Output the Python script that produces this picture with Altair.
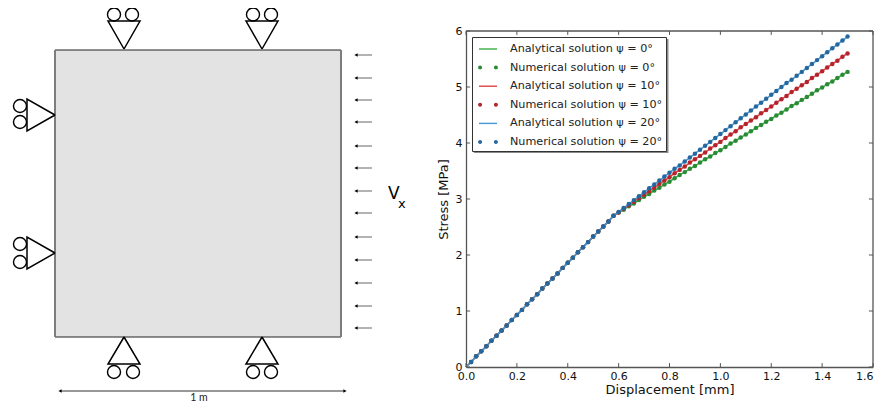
import altair as alt
import pandas as pd

# ---------- stress-displacement curves ----------
displacement = [0.00, 0.02, 0.04, 0.06, 0.08, 0.10, 0.12, 0.14, 0.16, 0.18,
                0.20, 0.22, 0.24, 0.26, 0.28, 0.30, 0.32, 0.34, 0.36, 0.38,
                0.40, 0.42, 0.44, 0.46, 0.48, 0.50, 0.52, 0.54, 0.56, 0.58,
                0.60, 0.62, 0.64, 0.66, 0.68, 0.70, 0.72, 0.74, 0.76, 0.78,
                0.80, 0.82, 0.84, 0.86, 0.88, 0.90, 0.92, 0.94, 0.96, 0.98,
                1.00, 1.02, 1.04, 1.06, 1.08, 1.10, 1.12, 1.14, 1.16, 1.18,
                1.20, 1.22, 1.24, 1.26, 1.28, 1.30, 1.32, 1.34, 1.36, 1.38,
                1.40, 1.42, 1.44, 1.46, 1.48, 1.50]
shared_rise = [0.00, 0.09, 0.19, 0.28, 0.37, 0.47, 0.56, 0.65, 0.74, 0.84,
               0.93, 1.02, 1.12, 1.21, 1.30, 1.40, 1.49, 1.58, 1.67, 1.77,
               1.86, 1.95, 2.05, 2.14, 2.23, 2.33, 2.42, 2.51, 2.60, 2.70]
stress_psi0 = shared_rise + [
    2.76, 2.81, 2.87, 2.92, 2.98, 3.04, 3.09, 3.15, 3.20, 3.26, 3.31, 3.37,
    3.43, 3.48, 3.54, 3.59, 3.65, 3.71, 3.76, 3.82, 3.87, 3.93, 3.99, 4.04,
    4.10, 4.15, 4.21, 4.27, 4.32, 4.38, 4.43, 4.49, 4.54, 4.60, 4.66, 4.71,
    4.77, 4.82, 4.88, 4.94, 4.99, 5.05, 5.10, 5.16, 5.22, 5.27]
stress_psi10 = shared_rise + [
    2.76, 2.83, 2.89, 2.95, 3.02, 3.08, 3.14, 3.20, 3.27, 3.33, 3.39, 3.46,
    3.52, 3.58, 3.65, 3.71, 3.77, 3.83, 3.90, 3.96, 4.02, 4.09, 4.15, 4.21,
    4.28, 4.34, 4.40, 4.46, 4.53, 4.59, 4.65, 4.72, 4.78, 4.84, 4.91, 4.97,
    5.03, 5.09, 5.16, 5.22, 5.28, 5.35, 5.41, 5.47, 5.54, 5.60]
stress_psi20 = shared_rise + [
    2.77, 2.84, 2.91, 2.98, 3.05, 3.12, 3.19, 3.26, 3.33, 3.40, 3.47, 3.54,
    3.60, 3.67, 3.74, 3.81, 3.88, 3.95, 4.02, 4.09, 4.16, 4.23, 4.30, 4.37,
    4.44, 4.51, 4.58, 4.65, 4.72, 4.79, 4.86, 4.93, 5.00, 5.07, 5.13, 5.20,
    5.27, 5.34, 5.41, 5.48, 5.55, 5.62, 5.69, 5.76, 5.83, 5.90]

legend_labels = ["Analytical solution ψ = 0°", "Numerical solution ψ = 0°",
                 "Analytical solution ψ = 10°", "Numerical solution ψ = 10°",
                 "Analytical solution ψ = 20°", "Numerical solution ψ = 20°"]
legend_colors = ["#3fae49", "#2a8a35", "#e0454b", "#b3242c", "#4a96d0", "#24689f"]
line_key = "M-1,-0.08H1V0.08H-1Z"
dots_key = ("M-0.66,0A0.22,0.22,0,1,1,-1.1,0A0.22,0.22,0,1,1,-0.66,0Z"
            "M1.1,0A0.22,0.22,0,1,1,0.66,0A0.22,0.22,0,1,1,1.1,0Z")
legend_keys = [line_key, dots_key] * 3

x_tick_values = [0.0, 0.2, 0.4, 0.6, 0.8, 1.0, 1.2, 1.4, 1.6]
y_tick_values = [0, 1, 2, 3, 4, 5, 6]
X_MAX, Y_MAX = 1.6, 6
X_TICK_LEN, Y_TICK_LEN = 0.016, 0.07
FRAME = "#555555"

# ---------- schematic (drawing units) ----------
block_x = [55, 341]
block_y = [50, 337]
supports = [  # closed triangles: x list, y list
    ([124, 108, 140, 124], [49, 21, 21, 49]),
    ([262, 246, 278, 262], [49, 21, 21, 49]),
    ([124, 108, 140, 124], [337, 364, 364, 337]),
    ([262, 246, 278, 262], [337, 364, 364, 337]),
    ([55, 27, 27, 55], [115, 99, 131, 115]),
    ([55, 27, 27, 55], [253, 237, 269, 253]),
]
roller_x = [114, 132, 253, 271, 114, 133, 253, 271, 20, 20, 20, 20]
roller_y = [14.5, 14.5, 14.5, 14.5, 372, 372, 372, 372, 106, 122, 244, 262]
load_y = [55, 78, 100, 122, 146, 168, 191, 213, 237, 260, 283, 306, 328]
load_tail, load_tip = 372, 356
dim_y = 391
dim_x = [60, 345]

LEFT_W, LEFT_H = 420, 395
dx = alt.Scale(domain=[8, 8 + LEFT_W], range=[0, LEFT_W])
dy = alt.Scale(domain=[8, 8 + LEFT_H], range=[0, LEFT_H])
X = lambda f: alt.X(f, type="quantitative", scale=dx, axis=None)
Y = lambda f: alt.Y(f, type="quantitative", scale=dy, axis=None)

blk = pd.DataFrame({"x": [block_x[0]], "x2": [block_x[1]],
                    "y": [block_y[0]], "y2": [block_y[1]]})
block = alt.Chart(blk).mark_rect(fill="#e3e3e3").encode(x=X("x"), x2="x2", y=Y("y"), y2="y2")
edges_h = alt.Chart(pd.DataFrame({"x": block_x[:1] * 2, "x2": block_x[1:] * 2, "y": block_y})).mark_rule(
    color="#222222", strokeWidth=1).encode(x=X("x"), x2="x2", y=Y("y"))
edges_v = alt.Chart(pd.DataFrame({"x": block_x, "y": block_y[:1] * 2, "y2": block_y[1:] * 2})).mark_rule(
    color="#7d7d7d", strokeWidth=2).encode(x=X("x"), y=Y("y"), y2="y2")

tri_rows = []
for i, (xs, ys) in enumerate(supports):
    for j, (a, b) in enumerate(zip(xs, ys)):
        tri_rows.append({"id": i, "o": j, "x": a, "y": b})
triangles = alt.Chart(pd.DataFrame(tri_rows)).mark_line(color="black", strokeWidth=1.5).encode(
    x=X("x"), y=Y("y"), detail="id:N", order="o:Q")
rollers = alt.Chart(pd.DataFrame({"x": roller_x, "y": roller_y})).mark_point(
    shape="circle", size=170, color="black", strokeWidth=1.4, filled=False, opacity=1).encode(x=X("x"), y=Y("y"))

load_df = pd.DataFrame({"y": load_y, "tail": [load_tail] * len(load_y), "tip": [load_tip] * len(load_y)})
load_shaft = alt.Chart(load_df).mark_rule(color="#666666", strokeWidth=1).encode(x=X("tail"), x2="tip", y=Y("y"))
load_head = alt.Chart(load_df).mark_point(shape="triangle-left", size=14, filled=True, color="black", opacity=1).encode(
    x=X("tip"), y=Y("y"))

dim_df = pd.DataFrame({"x": [dim_x[0]], "x2": [dim_x[1]], "y": [dim_y]})
dim_line = alt.Chart(dim_df).mark_rule(color="#333333", strokeWidth=1).encode(x=X("x"), x2="x2", y=Y("y"))
dim_heads = alt.Chart(pd.DataFrame({"x": dim_x, "y": [dim_y, dim_y], "s": ["triangle-left", "triangle-right"]})).mark_point(
    size=14, filled=True, color="black", opacity=1).encode(
    x=X("x"), y=Y("y"), shape=alt.Shape("s:N", scale=None))
dim_text = alt.Chart(pd.DataFrame({"x": [199], "y": [398], "t": ["1 m"]})).mark_text(
    font="Lato", fontSize=10.5, color="#222222").encode(x=X("x"), y=Y("y"), text="t")
v_text = alt.Chart(pd.DataFrame({"x": [388], "y": [194], "t": ["V"]})).mark_text(
    font="DejaVu Sans", fontSize=17, align="left", color="black").encode(x=X("x"), y=Y("y"), text="t")
v_sub = alt.Chart(pd.DataFrame({"x": [398], "y": [204], "t": ["x"]})).mark_text(
    font="DejaVu Sans", fontSize=13, align="left", color="black").encode(x=X("x"), y=Y("y"), text="t")

left = alt.layer(block, edges_h, edges_v, triangles, rollers, load_shaft, load_head,
                 dim_line, dim_heads, dim_text, v_text, v_sub).properties(width=LEFT_W, height=LEFT_H)

# ---------- stress plot ----------
PLOT_W, PLOT_H, PLOT_TOP = 407, 359, 23
sx = alt.Scale(domain=[0, X_MAX], range=[0, PLOT_W])
sy = alt.Scale(domain=[0, Y_MAX], range=[PLOT_H, PLOT_TOP])
x_axis = alt.Axis(title="Displacement [mm]", values=x_tick_values, format=".1f", grid=False,
                  tickSize=0, labelPadding=3, labelFontSize=11, titleFontSize=13, titleFontWeight="normal",
                  labelFont="DejaVu Sans", titleFont="DejaVu Sans", labelColor="#111111", titleColor="#111111",
                  domainColor=FRAME, domainWidth=1.3, titlePadding=2, labelFlush=False, labelOverlap=False,
                  labelAlign=alt.expr("datum.value >= 1.6 ? 'right' : 'center'"))
y_axis = alt.Axis(title="Stress [MPa]", values=y_tick_values, format="d", grid=False,
                  tickSize=0, labelPadding=4, labelFontSize=11, titleFontSize=13, titleFontWeight="normal",
                  labelFont="DejaVu Sans", titleFont="DejaVu Sans", labelColor="#111111", titleColor="#111111",
                  domainColor=FRAME, domainWidth=1.3, titlePadding=5, labelOverlap=False)
PX = alt.X("x:Q", scale=sx, axis=x_axis)
PY = alt.Y("y:Q", scale=sy, axis=y_axis)
color_scale = alt.Scale(domain=legend_labels, range=legend_colors)

layers = []
curve_sets = [stress_psi0, stress_psi10, stress_psi20]

# helper layer that only contributes the legend entries (one-pixel marks at the origin, under the curves)
legend_style = dict(
    title=None, orient="none", legendX=464, legendY=29, fillColor="white", strokeColor="#333333",
    padding=3, rowPadding=3.6, labelFont="DejaVu Sans", labelFontSize=11.2, labelColor="#222222",
    symbolSize=324, symbolStrokeWidth=0, symbolOffset=4, labelOffset=13, labelLimit=220, zindex=1)
key_df = pd.DataFrame({"x": [0.0] * 6, "y": [0.0] * 6, "s": legend_labels})
keys = alt.Chart(key_df).mark_point(filled=True, size=1, opacity=1).encode(
    x=PX, y=PY,
    color=alt.Color("s:N", scale=color_scale, legend=alt.Legend(**legend_style)),
    shape=alt.Shape("s:N", scale=alt.Scale(domain=legend_labels, range=legend_keys),
                    legend=alt.Legend(**legend_style)),
)
layers.append(keys)

for k, values in enumerate(curve_sets):
    a_df = pd.DataFrame({"x": displacement, "y": values, "s": legend_labels[2 * k]})
    n_df = pd.DataFrame({"x": displacement[1:], "y": values[1:], "s": legend_labels[2 * k + 1]})
    layers.append(alt.Chart(a_df).mark_line(strokeWidth=1.6).encode(
        x=PX, y=PY, color=alt.Color("s:N", scale=color_scale, legend=None)))
    layers.append(alt.Chart(n_df).mark_circle(size=20, opacity=1).encode(
        x=PX, y=PY, color=alt.Color("s:N", scale=color_scale, legend=None)))

# top and right edges + inward ticks
top_edge = alt.Chart(pd.DataFrame({"x": [0], "x2": [X_MAX], "y": [Y_MAX]})).mark_rule(
    color=FRAME, strokeWidth=1.3).encode(x=PX, x2="x2", y=PY)
right_edge = alt.Chart(pd.DataFrame({"x": [X_MAX], "y": [0], "y2": [Y_MAX]})).mark_rule(
    color=FRAME, strokeWidth=1.3).encode(x=PX, y=PY, y2="y2")
tx = pd.DataFrame({"x": x_tick_values * 2,
                   "y": [0] * len(x_tick_values) + [Y_MAX] * len(x_tick_values),
                   "y2": [Y_TICK_LEN] * len(x_tick_values) + [Y_MAX - Y_TICK_LEN] * len(x_tick_values)})
ty = pd.DataFrame({"y": y_tick_values * 2,
                   "x": [0] * len(y_tick_values) + [X_MAX] * len(y_tick_values),
                   "x2": [X_TICK_LEN] * len(y_tick_values) + [X_MAX - X_TICK_LEN] * len(y_tick_values)})
x_ticks = alt.Chart(tx).mark_rule(color=FRAME, strokeWidth=1).encode(x=PX, y=PY, y2="y2")
y_ticks = alt.Chart(ty).mark_rule(color=FRAME, strokeWidth=1).encode(x=PX, x2="x2", y=PY)

shadow = alt.Chart(pd.DataFrame({"x": [0.031], "x2": [0.796], "y": [5.857], "y2": [3.82]})).mark_rect(
    color="#8a8a8a").encode(x=PX, x2="x2", y=PY, y2="y2")

right = alt.layer(*layers, top_edge, right_edge, x_ticks, y_ticks, shadow).properties(
    width=PLOT_W, height=PLOT_H)

chart = alt.hconcat(left, right, spacing=9).properties(
    padding={"top": -3, "left": 0, "right": 0, "bottom": 0}).configure_view(stroke=None)
chart.save("out.html", embed_options={"renderer": "svg", "actions": False})
